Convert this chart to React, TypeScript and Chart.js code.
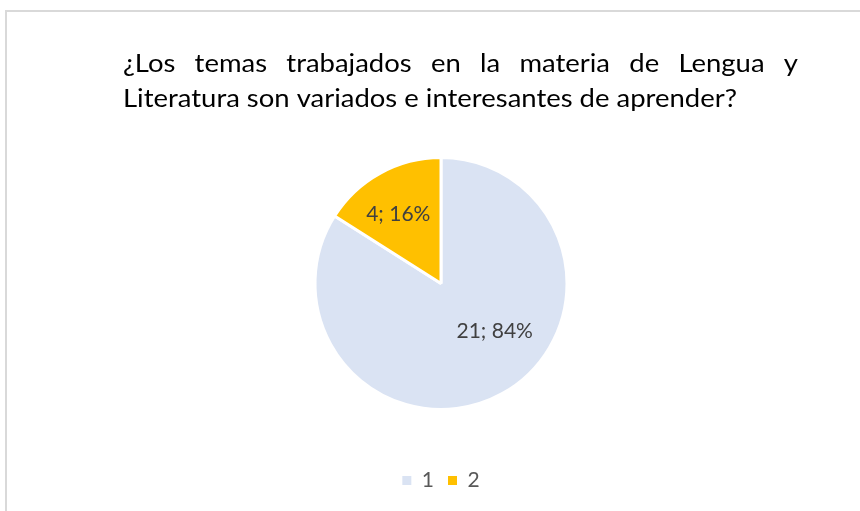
import React, { useEffect, useRef } from "react";
import { Chart, registerables, DoughnutController } from "chart.js";

Chart.register(...registerables);

const categories = ["1", "2"];
const values = [21, 4];
const percents = ["84%", "16%"];
const colors = ["#DAE3F3", "#FFC000"];
const titleLine1 = "¿Los temas trabajados en la materia de Lengua y";
const titleLine2 = "Literatura son variados e interesantes de aprender?";

const FONT = "Lato, 'Noto Sans', sans-serif";

export default function App() {
  const ref = useRef<HTMLCanvasElement | null>(null);

  useEffect(() => {
    if (!ref.current) return;

    const titlePlugin = {
      id: "justTitle",
      afterDraw(chart: any) {
        const ctx = chart.ctx;
        ctx.save();
        const left = 123;
        const right = 798;
        const targetW2 = 614;
        const size = 25;
        ctx.font = `${size}px ${FONT}`;
        const w2 = ctx.measureText(titleLine2).width;
        const sx = targetW2 / w2;
        ctx.fillStyle = "#000000";
        ctx.textBaseline = "alphabetic";
        ctx.textAlign = "left";
        const words = titleLine1.split(" ");
        const total = words.reduce((s, w) => s + ctx.measureText(w).width * sx, 0);
        const gap = (right - left - total) / (words.length - 1);
        let x = left;
        for (const w of words) {
          ctx.save();
          ctx.translate(x, 72);
          ctx.scale(sx, 1);
          ctx.fillText(w, 0, 0);
          ctx.restore();
          x += ctx.measureText(w).width * sx + gap;
        }
        ctx.save();
        ctx.translate(left, 107);
        ctx.scale(sx, 1);
        ctx.fillText(titleLine2, 0, 0);
        ctx.restore();
        ctx.restore();
      },
    };

    const labelFrac = [0.57, 0.645];
    const labelAngleShift = [-19.6, -2.9];
    const labelPlugin = {
      id: "sliceLabels",
      afterDatasetsDraw(chart: any) {
        const ctx = chart.ctx;
        const meta = chart.getDatasetMeta(0);
        ctx.save();
        ctx.font = `21px ${FONT}`;
        ctx.fillStyle = "#404040";
        ctx.textAlign = "center";
        ctx.textBaseline = "middle";
        meta.data.forEach((arc: any, i: number) => {
          const p = arc.getProps(["startAngle", "endAngle", "outerRadius", "x", "y"], true);
          const mid = (p.startAngle + p.endAngle) / 2 + (labelAngleShift[i] * Math.PI) / 180;
          const r = p.outerRadius * labelFrac[i];
          const tx = p.x + Math.cos(mid) * r;
          const ty = p.y + Math.sin(mid) * r;
          ctx.fillText(`${values[i]}; ${percents[i]}`, tx, ty);
        });
        ctx.restore();
      },
    };

    const baseGen = (DoughnutController as any).overrides.plugins.legend.labels.generateLabels;

    const chart = new Chart(ref.current, {
      type: "pie",
      data: {
        labels: categories,
        datasets: [
          {
            data: values,
            backgroundColor: colors,
            borderColor: "#FFFFFF",
            borderWidth: 3,
            radius: 126,
          },
        ],
      },
      options: {
        animation: false,
        responsive: false,
        maintainAspectRatio: false,
        layout: { padding: { left: 22, right: 0, top: 111, bottom: 10 } },
        plugins: {
          title: { display: false },
          tooltip: { enabled: false },
          legend: {
            display: true,
            position: "bottom",
            labels: {
              boxWidth: 9,
              boxHeight: 9,
              padding: 14,
              color: "#595959",
              font: { family: FONT, size: 21 },
              generateLabels: (c: any) =>
                baseGen(c).map((it: any) => ({ ...it, lineWidth: 0, strokeStyle: "rgba(0,0,0,0)" })),
            },
          },
        },
      },
      plugins: [titlePlugin, labelPlugin],
    });
    return () => chart.destroy();
  }, []);

  return (
    <div style={{ position: "fixed", left: 0, top: 0, width: 860, height: 511, background: "#FFFFFF" }}>
      <div
        style={{
          position: "absolute",
          left: 5,
          top: 10,
          width: 900,
          height: 600,
          borderLeft: "2px solid #D9D9D9",
          borderTop: "2px solid #D9D9D9",
          boxSizing: "border-box",
        }}
      />
      <canvas ref={ref} width={860} height={511} style={{ position: "absolute", left: 0, top: 0 }} />
    </div>
  );
}
